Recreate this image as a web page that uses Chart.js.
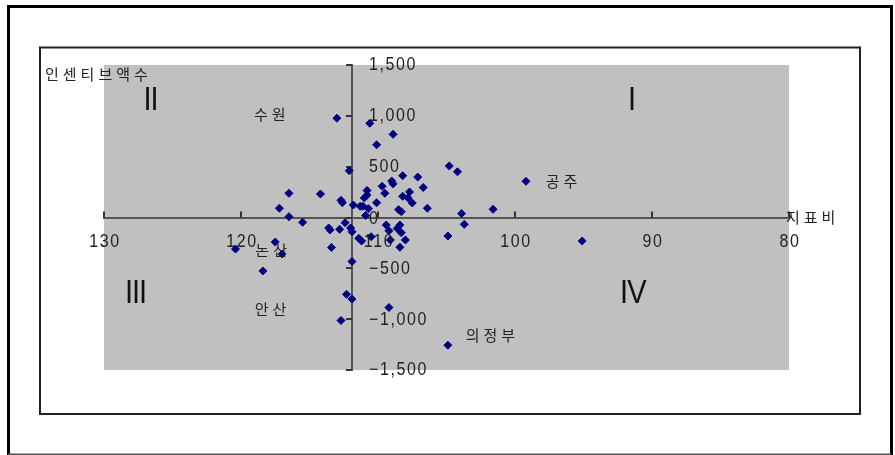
<!DOCTYPE html>
<html><head><meta charset="utf-8">
<script src="https://cdn.jsdelivr.net/npm/chart.js@4"></script>
<style>html,body{margin:0;padding:0;background:#fff;}canvas{display:block}</style>
</head><body>
<canvas id="c" width="895" height="455"></canvas>
<script>
// 지표비 (x) and 인센티브액수 (y) for each city
const indexRatio = [113.0,110.6,108.9,110.1,112.1,104.8,104.2,108.2,107.1,109.0,
  108.9,99.2,109.7,106.7,110.8,109.5,107.7,116.5,114.2,110.8,
  108.2,111.0,112.7,112.6,107.8,107.5,110.1,111.8,111.3,111.1,
  110.7,106.4,101.6,108.5,108.3,117.2,110.9,103.9,116.5,115.5,
  112.4,103.7,109.4,108.4,113.6,113.5,112.8,112.0,111.9,108.6,
  109.2,108.3,110.5,111.4,111.2,109.1,108.0,104.9,95.1,117.5,
  113.4,108.4,120.4,117.0,111.9,118.4,112.3,111.9,109.2,112.7,104.9];
const incentive = [977,927,818,715,460,507,450,411,398,359,
  331,356,307,295,266,238,251,238,231,221,
  209,192,169,146,192,143,145,123,110,110,
  87,91,81,77,57,91,20,39,8,-47,
  -51,-67,-74,-74,-103,-123,-116,-103,-140,-108,
  -130,-150,-189,-205,-231,-221,-221,-182,-231,-241,
  -295,-293,-310,-359,-433,-526,-755,-802,-885,-1013,-1256];

const xTickValues = [130,120,110,100,90,80];
const yTickValues = [1500,1000,500,0,-500,-1000,-1500];
const axisCrossX = 111.9;
const axisCrossY = 0;

const cityNames  = ['수원','논산','안산','의정부','공주'];
const cityLabelX = [117.9,117.8,117.85,101.8,96.6];
const cityLabelY = [1018,-320,-905,-1156,354];

const quadrantNames = ['I','II','III','IV'];
const quadrantX = [91.5,126.6,127.7,91.4];
const quadrantY = [1156,1156,-743,-743];

const xAxisTitle = '지표비';
const yAxisTitle = '인센티브액수';

function fmt(v){
  const s = Math.abs(v).toLocaleString('en-US');
  return (v < 0 ? '\u2212' : '') + s;
}

function tallText(ctx, text, x, y, sy){
  ctx.save();
  ctx.translate(x, y);
  ctx.scale(1, sy);
  ctx.fillText(text, 0, 0);
  ctx.restore();
}

const deco = {
  id: 'deco',
  beforeDraw(chart){
    const {ctx, chartArea:a} = chart;
    ctx.save();
    ctx.fillStyle = '#fff';
    ctx.fillRect(0,0,chart.width,chart.height);
    ctx.strokeStyle = '#000';
    ctx.lineWidth = 3;
    ctx.beginPath();
    ctx.moveTo(8.5,456); ctx.lineTo(8.5,6.5); ctx.lineTo(891.5,6.5); ctx.lineTo(891.5,456);
    ctx.stroke();
    ctx.strokeStyle = '#555';
    ctx.lineWidth = 1.5;
    ctx.beginPath(); ctx.moveTo(8,454.2); ctx.lineTo(891,454.2); ctx.stroke();
    ctx.strokeStyle = '#222';
    ctx.lineWidth = 2;
    ctx.strokeRect(40,47.5,820,366.5);
    ctx.fillStyle = '#c0c0c0';
    ctx.fillRect(a.left,a.top,a.right-a.left,a.bottom-a.top);
    ctx.restore();
  },
  beforeDatasetsDraw(chart){
    const {ctx, scales:{x,y}} = chart;
    const ax = x.getPixelForValue(axisCrossX);
    const ay = y.getPixelForValue(axisCrossY);
    ctx.save();
    ctx.strokeStyle = '#333';
    ctx.lineWidth = 2;
    ctx.beginPath();
    yTickValues.forEach(v => {
      const py = Math.round(y.getPixelForValue(v));
      ctx.moveTo(ax-6, py); ctx.lineTo(ax, py);
    });
    xTickValues.forEach(v => {
      const px = Math.round(x.getPixelForValue(v));
      ctx.moveTo(px, ay-6); ctx.lineTo(px, ay);
    });
    ctx.stroke();
    ctx.restore();
  },
  afterDraw(chart){
    const {ctx, scales:{x,y}} = chart;
    const ax = x.getPixelForValue(axisCrossX);
    const ay = y.getPixelForValue(axisCrossY);
    ctx.save();
    ctx.fillStyle = '#222';
    ctx.font = '16px "Liberation Sans", Arial, sans-serif';
    ctx.letterSpacing = '1.6px';
    ctx.textBaseline = 'middle';
    ctx.textAlign = 'left';
    yTickValues.forEach(v => {
      const py = y.getPixelForValue(v) + (v === 0 ? 2 : 0.5);
      tallText(ctx, fmt(v), ax + 17, py, 1.12);
    });
    ctx.textAlign = 'center';
    xTickValues.forEach(v => {
      tallText(ctx, fmt(v), x.getPixelForValue(v) + 1, ay + 24.5, 1.12);
    });
    ctx.font = '15px "Noto Sans CJK KR", sans-serif';
    ctx.letterSpacing = '4px';
    ctx.textAlign = 'left';
    ctx.fillText(yAxisTitle, 45, 74);
    ctx.fillText(xAxisTitle, 786, ay);
    ctx.textAlign = 'center';
    cityNames.forEach((n,i) => {
      ctx.fillText(n, x.getPixelForValue(cityLabelX[i]) + 2, y.getPixelForValue(cityLabelY[i]));
    });
    ctx.font = '29px "Liberation Sans", Arial, sans-serif';
    ctx.letterSpacing = '-1px';
    ctx.fillStyle = '#111';
    quadrantNames.forEach((n,i) => {
      tallText(ctx, n, x.getPixelForValue(quadrantX[i]), y.getPixelForValue(quadrantY[i]) + 1, 1.12);
    });
    ctx.restore();
  }
};

new Chart(document.getElementById('c'), {
  type: 'scatter',
  data: {
    datasets: [{
      data: indexRatio.map((v,i) => ({x: v, y: incentive[i]})),
      pointStyle: 'rectRot',
      pointRadius: 4,
      pointBorderWidth: 1,
      backgroundColor: '#000080',
      borderColor: '#000080'
    }]
  },
  options: {
    responsive: false,
    animation: false,
    events: [],
    layout: { padding: { left: 104, top: 65, right: 106, bottom: 85 } },
    plugins: { legend: { display: false }, tooltip: { enabled: false } },
    scales: {
      x: {
        type: 'linear', min: 80, max: 130, reverse: true,
        position: { y: axisCrossY },
        grid: { display: false },
        ticks: { display: false },
        border: { color: '#555', width: 2 }
      },
      y: {
        type: 'linear', min: -1500, max: 1500,
        position: { x: axisCrossX },
        grid: { display: false },
        ticks: { display: false },
        border: { color: '#555', width: 2 }
      }
    }
  },
  plugins: [deco]
});
</script>
</body></html>
